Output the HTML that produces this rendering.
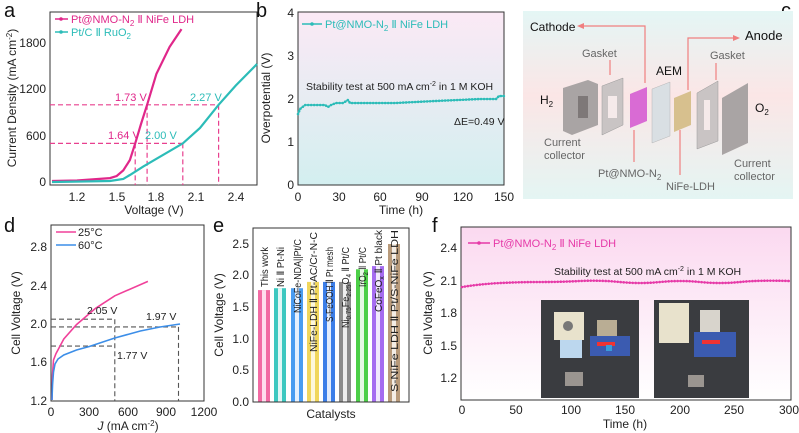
<!DOCTYPE html>
<html><head><meta charset="utf-8"><style>
body{margin:0;background:#fff}
svg{display:block;font-family:"Liberation Sans",Arial,sans-serif}
.t{font-size:12px;fill:#222}
.l{font-size:20px;fill:#111}
</style></head><body>
<svg width="799" height="433" viewBox="0 0 799 433">
<defs>
<linearGradient id="gb" x1="0" y1="0" x2="0" y2="1"><stop offset="0" stop-color="#fbe9f5"/><stop offset="1" stop-color="#d3eff0"/></linearGradient>
<linearGradient id="gf" x1="0" y1="0" x2="0" y2="1"><stop offset="0" stop-color="#fbd9f0"/><stop offset="1" stop-color="#fff"/></linearGradient>
<linearGradient id="gc" x1="0" y1="0" x2="0" y2="1"><stop offset="0" stop-color="#e4f6f5"/><stop offset="0.45" stop-color="#fbe6e6"/><stop offset="1" stop-color="#e4f5f3"/></linearGradient>
</defs>

<!-- Panel a -->
<text class="l" x="4" y="17">a</text>
<rect x="50" y="12" width="207" height="173" fill="none" stroke="#333" stroke-width="1"/>
<g stroke="#e8408f" stroke-width="1.2" stroke-dasharray="5,3" fill="none">
<path d="M50 143.4H182.8M50 104.8H218.6M135.2 143.4V185M147.1 104.8V185M182.8 143.4V185M218.6 104.8V185"/>
</g>
<path d="M52 181 L77 180.5 L110 178.1 L116.7 176 L123.3 170.4 L129.9 160 L135.2 143.4 L141 124 L147.1 104.8 L156.4 73.9 L169.6 46.9 L181.5 29.1" fill="none" stroke="#e0278a" stroke-width="2.2"/>
<path d="M52 182 L110 181 L123.3 178.9 L129.9 175 L143.2 166.6 L156.4 158.8 L182.8 143.4 L200 128 L218.6 104.8 L235.8 85.5 L257 64" fill="none" stroke="#2cbcb8" stroke-width="2.2"/>
<line x1="55" y1="19" x2="68" y2="19" stroke="#e0278a" stroke-width="1.5"/><circle cx="61" cy="19" r="1.8" fill="#e0278a"/>
<text x="71" y="23" font-size="11" fill="#e0278a">Pt@NMO-N<tspan font-size="8" dy="3">2</tspan><tspan dy="-3"> Ⅱ NiFe LDH</tspan></text>
<line x1="55" y1="32" x2="68" y2="32" stroke="#2cbcb8" stroke-width="1.5"/><circle cx="61" cy="32" r="1.8" fill="#2cbcb8"/>
<text x="71" y="36" font-size="11" fill="#2cbcb8">Pt/C Ⅱ RuO<tspan font-size="8" dy="3">2</tspan></text>
<text x="115" y="101" font-size="11" fill="#e0278a">1.73 V</text>
<text x="190" y="101" font-size="11" fill="#2cbcb8">2.27 V</text>
<text x="108" y="139" font-size="11" fill="#e0278a">1.64 V</text>
<text x="145" y="139" font-size="11" fill="#2cbcb8">2.00 V</text>
<g class="t" text-anchor="end"><text x="46" y="186">0</text><text x="46" y="140">600</text><text x="46" y="93">1200</text><text x="46" y="47">1800</text></g>
<g class="t" text-anchor="middle"><text x="77" y="201">1.2</text><text x="117" y="201">1.5</text><text x="156" y="201">1.8</text><text x="196" y="201">2.1</text><text x="236" y="201">2.4</text></g>
<text class="t" x="154" y="214" text-anchor="middle">Voltage (V)</text>
<text class="t" transform="translate(16,98) rotate(-90)" text-anchor="middle">Current Density (mA cm<tspan font-size="8" dy="-4">-2</tspan><tspan dy="4">)</tspan></text>

<!-- Panel b -->
<text class="l" x="256" y="17">b</text>
<rect x="298" y="12" width="206" height="173" fill="url(#gb)" stroke="#333"/>
<path d="M298 114 L300 109 L305 105 L315 105 L325 105 L328 107 L331 105 L336 103 L343 103 L348 100 L350 103 L360 103 L395 103 L435 101 L480 99 L496 99 L499 96 L504 96" fill="none" stroke="#2cbcb8" stroke-width="1.5"/>
<path d="M298 114 L300 109 L305 105 L315 105 L325 105 L328 107 L331 105 L336 103 L343 103 L348 100 L350 103 L360 103 L395 103 L435 101 L480 99 L496 99 L499 96 L504 96" fill="none" stroke="#2cbcb8" stroke-width="2.6" stroke-dasharray="0 3" stroke-linecap="round"/>
<line x1="302" y1="24" x2="322" y2="24" stroke="#2cbcb8" stroke-width="1.5"/><circle cx="312" cy="24" r="1.8" fill="#2cbcb8"/>
<text x="325" y="28" font-size="11" fill="#2cbcb8">Pt@NMO-N<tspan font-size="8" dy="3">2</tspan><tspan dy="-3"> Ⅱ NiFe LDH</tspan></text>
<text x="306" y="90" font-size="10.5" fill="#222">Stability test at 500 mA cm<tspan font-size="7" dy="-4">-2</tspan><tspan dy="4"> in 1 M KOH</tspan></text>
<text x="454" y="125" font-size="10.5" fill="#222">ΔE=0.49 V</text>
<g class="t" text-anchor="end"><text x="294" y="189">0</text><text x="294" y="146">1</text><text x="294" y="103">2</text><text x="294" y="60">3</text><text x="294" y="17">4</text></g>
<g class="t" text-anchor="middle"><text x="298" y="201">0</text><text x="339" y="201">30</text><text x="380" y="201">60</text><text x="422" y="201">90</text><text x="463" y="201">120</text><text x="504" y="201">150</text></g>
<text class="t" x="401" y="214" text-anchor="middle">Time (h)</text>
<text class="t" transform="translate(270,98) rotate(-90)" text-anchor="middle">Overpotential (V)</text>

<!-- Panel c -->
<text class="l" x="781" y="17">c</text>
<rect x="523" y="11" width="270" height="188" fill="url(#gc)"/>
<g font-size="11" fill="#666">
<text x="582" y="57">Gasket</text><text x="710" y="59">Gasket</text>
<text x="544" y="146">Current</text><text x="544" y="159">collector</text>
<text x="734" y="167">Current</text><text x="734" y="180">collector</text>
<text x="598" y="177">Pt@NMO-N<tspan font-size="8" dy="3">2</tspan></text>
<text x="666" y="190">NiFe-LDH</text>
</g>
<g font-size="12" fill="#111">
<text x="530" y="31">Cathode</text><text x="745" y="40" font-size="13">Anode</text>
<text x="656" y="75">AEM</text><text x="540" y="104">H<tspan font-size="8" dy="3">2</tspan></text><text x="755" y="112">O<tspan font-size="8" dy="3">2</tspan></text>
</g>
<g stroke="#f07f7f" stroke-width="1.2" fill="none">
<path d="M645 83V26H582"/><path d="M688 90V38H735"/><path d="M610 60V75"/><path d="M716 63V80"/><path d="M634 130V162"/><path d="M680 130V175"/>
</g>
<path d="M577 26l7-3v6z M740 38l-7-3v6z" fill="#f07f7f"/>
<polygon points="563,88 588,80 598,84 598,125 572,135 563,131" fill="#a9a4a4"/>
<rect x="578" y="96" width="10" height="22" fill="#7e7878"/>
<polygon points="602,86 623,78 623,125 602,135" fill="#c9c4c4" stroke="#999" stroke-width=".5"/>
<rect x="608" y="96" width="9" height="22" fill="#f5eaea"/>
<polygon points="630,94 647,87 647,121 630,128" fill="#d96bd4"/>
<polygon points="652,89 670,82 670,136 652,143" fill="#d9dfe3" stroke="#aaa" stroke-width=".4"/>
<polygon points="674,98 691,91 691,125 674,132" fill="#d7c08e"/>
<polygon points="697,93 718,81 718,141 697,149" fill="#c9c4c4" stroke="#999" stroke-width=".5"/>
<rect x="704" y="100" width="6" height="30" fill="#f5eaea"/>
<polygon points="722,98 748,83 748,143 722,155" fill="#a9a4a4"/>

<!-- Panel d -->
<text class="l" x="4" y="232">d</text>
<rect x="51" y="225" width="153" height="176" fill="none" stroke="#333"/>
<g stroke="#555" stroke-width="1.1" stroke-dasharray="5,3" fill="none">
<path d="M51 319.2H114.8M51 326.9H178.5M51 346.1H114.8M114.8 319.2V401M178.5 326.9V401"/>
</g>
<path d="M52 400 L52.5 375 L53.5 360 L56 353.6 L63.8 339 L76.5 324.6 L95.6 308.3 L114.8 295.8 L147.9 281.4" fill="none" stroke="#f0419a" stroke-width="1.6"/>
<path d="M52 400 L52.5 385 L53.5 372 L55 364 L58 359 L63.8 355 L76.5 350 L89.3 346.5 L114.8 338 L140.3 331 L160 327 L180 324" fill="none" stroke="#3c8ee8" stroke-width="1.6"/>
<line x1="56" y1="232" x2="76" y2="232" stroke="#f0419a" stroke-width="1.6"/><text x="78" y="236" font-size="11" fill="#222">25°C</text>
<line x1="56" y1="245" x2="76" y2="245" stroke="#3c8ee8" stroke-width="1.6"/><text x="78" y="249" font-size="11" fill="#222">60°C</text>
<text x="87" y="314" font-size="10.5" fill="#222">2.05 V</text>
<text x="146" y="320" font-size="10.5" fill="#222">1.97 V</text>
<text x="117" y="359" font-size="10.5" fill="#222">1.77 V</text>
<g class="t" text-anchor="end"><text x="47" y="405">1.2</text><text x="47" y="366">1.6</text><text x="47" y="328">2.0</text><text x="47" y="290">2.4</text><text x="47" y="251">2.8</text></g>
<g class="t" text-anchor="middle"><text x="51" y="416">0</text><text x="89" y="416">300</text><text x="128" y="416">600</text><text x="166" y="416">900</text><text x="204" y="416">1200</text></g>
<text class="t" x="128" y="430" text-anchor="middle"><tspan font-style="italic">J</tspan> (mA cm<tspan font-size="8" dy="-4">-2</tspan><tspan dy="4">)</tspan></text>
<text class="t" transform="translate(20,313) rotate(-90)" text-anchor="middle">Cell Voltage (V)</text>

<!-- Panel e -->
<text class="l" x="213" y="232">e</text>
<g>
<rect x="258" y="290.1" width="12" height="111.9" fill="#f26aa3"/><rect x="262" y="290.1" width="4" height="111.9" fill="#fde"/>
<rect x="274" y="288.2" width="12" height="113.8" fill="#3cc8c0"/><rect x="278" y="288.2" width="4" height="113.8" fill="#e0f7f6"/>
<rect x="291" y="288.2" width="12" height="113.8" fill="#4a9cf0"/><rect x="295" y="288.2" width="4" height="113.8" fill="#e6f0fd"/>
<rect x="307" y="281.9" width="12" height="120.1" fill="#f0d65c"/><rect x="311" y="281.9" width="4" height="120.1" fill="#fdf7dc"/>
<rect x="323" y="281.9" width="12" height="120.1" fill="#3c7ee8"/><rect x="327" y="281.9" width="4" height="120.1" fill="#e3ecfc"/>
<rect x="339" y="281.9" width="12" height="120.1" fill="#8c8c8c"/><rect x="343" y="281.9" width="4" height="120.1" fill="#eee"/>
<rect x="356" y="269.3" width="12" height="132.7" fill="#4ccf48"/><rect x="360" y="269.3" width="4" height="132.7" fill="#e6f8e5"/>
<rect x="372" y="266.1" width="12" height="135.9" fill="#a56cf0"/><rect x="376" y="266.1" width="4" height="135.9" fill="#f1e8fd"/>
<rect x="388" y="244" width="12" height="158" fill="#b89a7a"/><rect x="392" y="244" width="4" height="158" fill="#f4ede5"/>
</g>
<rect x="253" y="228" width="156" height="174" fill="none" stroke="#333"/>
<g font-size="10" fill="#222" lengthAdjust="spacingAndGlyphs">
<text transform="translate(268,287) rotate(-90)" textLength="40" lengthAdjust="spacingAndGlyphs">This work</text>
<text transform="translate(284,287) rotate(-90)" textLength="40" lengthAdjust="spacingAndGlyphs">Ni Ⅱ Pt-Ni</text>
<text transform="translate(301,313) rotate(-90)" textLength="74" lengthAdjust="spacingAndGlyphs">NiCoFe-NDA||Pt/C</text>
<text transform="translate(317,352) rotate(-90)" textLength="120" lengthAdjust="spacingAndGlyphs">NiFe-LDH Ⅱ Pt-AC/Cr-N-C</text>
<text transform="translate(333,322) rotate(-90)" textLength="75" lengthAdjust="spacingAndGlyphs">S-FeOOH Ⅱ Pt mesh</text>
<text transform="translate(349,328) rotate(-90)" textLength="81" lengthAdjust="spacingAndGlyphs">Ni<tspan font-size="7" dy="2">0.75</tspan><tspan dy="-2">Fe</tspan><tspan font-size="7" dy="2">2.25</tspan><tspan dy="-2">O</tspan><tspan font-size="7" dy="2">4</tspan><tspan dy="-2"> Ⅱ Pt/C</tspan></text>
<text transform="translate(366,287) rotate(-90)" textLength="40" lengthAdjust="spacingAndGlyphs">IrO<tspan font-size="7" dy="2">2</tspan><tspan dy="-2"> Ⅱ Pt/C</tspan></text>
<text transform="translate(382,312) rotate(-90)" textLength="82" lengthAdjust="spacingAndGlyphs">CoFeO<tspan font-size="7" dy="2">x</tspan><tspan dy="-2"> Ⅱ Pt black</tspan></text>
<text transform="translate(398,392) rotate(-90)" textLength="162" lengthAdjust="spacingAndGlyphs">S-NiFe LDH Ⅱ Pt/S-NiFe LDH</text>
</g>
<g class="t" text-anchor="end"><text x="249" y="406">0.0</text><text x="249" y="374">0.5</text><text x="249" y="343">1.0</text><text x="249" y="311">1.5</text><text x="249" y="279">2.0</text><text x="249" y="248">2.5</text></g>
<text class="t" x="331" y="418" text-anchor="middle">Catalysts</text>
<text class="t" transform="translate(223,315) rotate(-90)" text-anchor="middle">Cell Voltage (V)</text>

<!-- Panel f -->
<text class="l" x="432" y="232">f</text>
<rect x="461" y="227" width="330" height="173" fill="url(#gf)" stroke="#333"/>
<path d="M462 287 Q480 284 500 283 T540 282 T580 281 T620 282 T660 282 T700 282 T740 282 T790 281" fill="none" stroke="#e63aa8" stroke-width="1.2"/>
<path d="M462 287 Q480 284 500 283 T540 282 T580 281 T620 282 T660 282 T700 282 T740 282 T790 281" fill="none" stroke="#e63aa8" stroke-width="2.6" stroke-dasharray="0 3" stroke-linecap="round"/>
<line x1="468" y1="243" x2="490" y2="243" stroke="#e63aa8" stroke-width="1.5"/><circle cx="479" cy="243" r="1.8" fill="#e63aa8"/>
<text x="493" y="247" font-size="11" fill="#e63aa8">Pt@NMO-N<tspan font-size="8" dy="3">2</tspan><tspan dy="-3"> Ⅱ NiFe LDH</tspan></text>
<text x="554" y="275" font-size="10.5" fill="#222">Stability test at 500 mA cm<tspan font-size="7" dy="-4">-2</tspan><tspan dy="4"> in 1 M KOH</tspan></text>
<rect x="541" y="300" width="98" height="98" fill="#3a3c40"/>
<rect x="554" y="312" width="30" height="28" fill="#e8e2cc"/><circle cx="568" cy="326" r="5" fill="#777"/>
<rect x="560" y="340" width="22" height="18" fill="#bcd7ee"/>
<rect x="597" y="320" width="20" height="20" fill="#b9ad94"/><rect x="590" y="336" width="40" height="20" fill="#3b5bb0"/>
<rect x="597" y="342" width="18" height="4" fill="#e33"/>
<rect x="606" y="345" width="6" height="6" fill="#3a9bd8"/>
<rect x="565" y="372" width="18" height="14" fill="#9a9590"/>
<rect x="654" y="300" width="95" height="98" fill="#3a3c40"/>
<rect x="659" y="303" width="30" height="40" fill="#e8e2cc"/>
<rect x="700" y="310" width="20" height="30" fill="#d8d4cc"/><rect x="694" y="332" width="42" height="25" fill="#3b5bb0"/>
<rect x="702" y="340" width="18" height="4" fill="#e33"/>
<rect x="688" y="375" width="16" height="12" fill="#9a9590"/>
<g class="t" text-anchor="end"><text x="457" y="382">1.2</text><text x="457" y="350">1.5</text><text x="457" y="317">1.8</text><text x="457" y="285">2.1</text><text x="457" y="252">2.4</text></g>
<g class="t" text-anchor="middle"><text x="462" y="414">0</text><text x="516" y="414">50</text><text x="571" y="414">100</text><text x="625" y="414">150</text><text x="680" y="414">200</text><text x="734" y="414">250</text><text x="789" y="414">300</text></g>
<text class="t" x="625" y="428" text-anchor="middle">Time (h)</text>
<text class="t" transform="translate(432,313) rotate(-90)" text-anchor="middle">Cell Voltage (V)</text>
</svg>
</body></html>
